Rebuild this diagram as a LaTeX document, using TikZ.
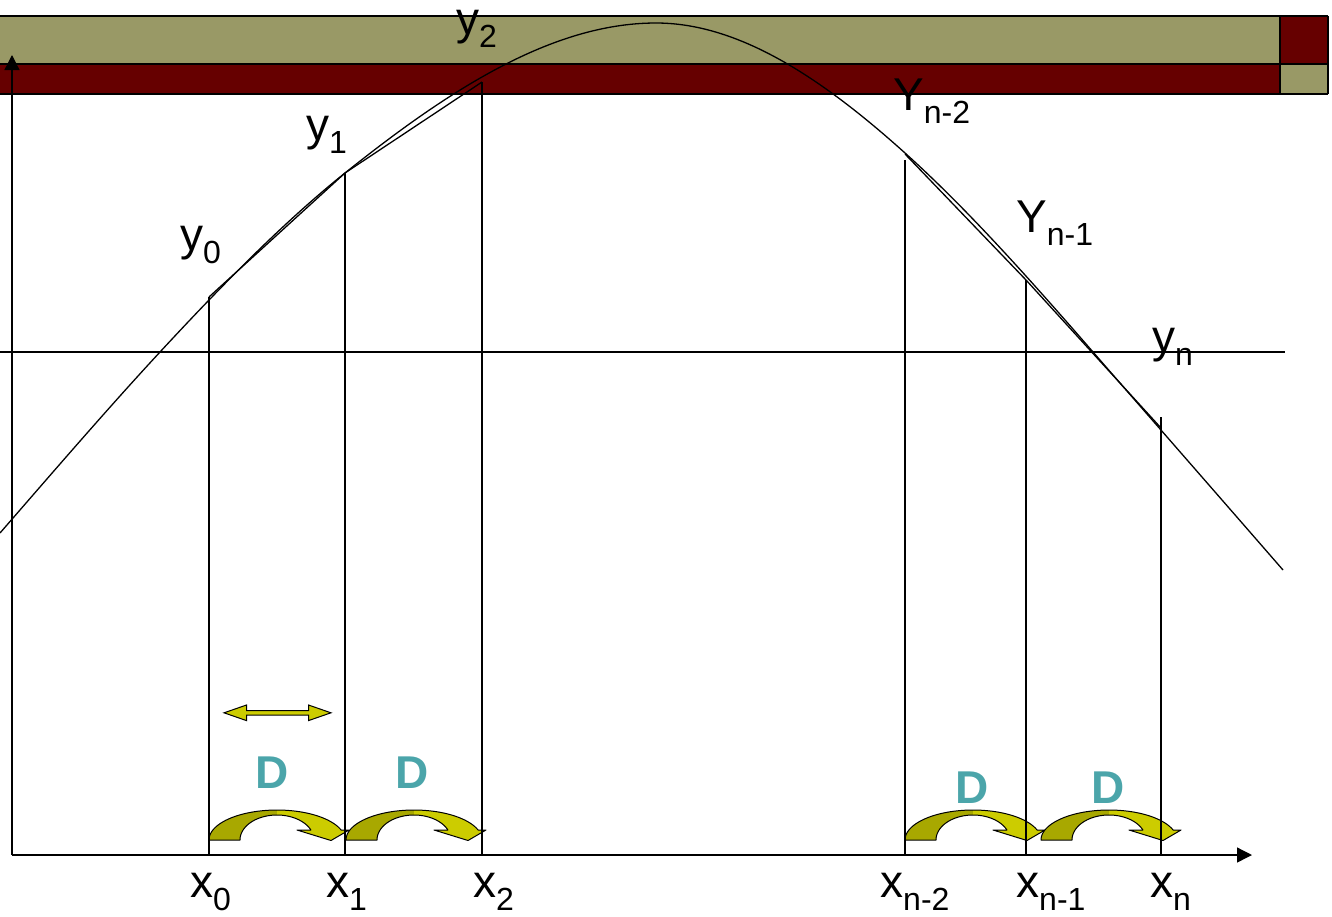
\documentclass[tikz,border=0pt]{standalone}
\usepackage{fontspec}
\setmainfont{Liberation Sans}
\usetikzlibrary{arrows.meta}
\definecolor{olivebar}{RGB}{153,153,102}
\definecolor{darkredbar}{RGB}{102,0,0}
\definecolor{yellowarr}{RGB}{204,204,0}
\definecolor{darkyellow}{RGB}{168,168,0}
\definecolor{tealD}{RGB}{75,165,170}
\newcommand\sublbl[2]{#1\raisebox{-13pt}{\fontsize{32}{34}\selectfont #2}}
\begin{document}
\begin{tikzpicture}[x=1pt,y=-1pt,
  thinline/.style={line width=1.3pt},
  barline/.style={line width=2pt},
  lbl/.style={inner sep=0pt, anchor=base west, font=\fontsize{46}{50}\selectfont},
  dlbl/.style={inner sep=0pt, font=\fontsize{46}{50}\selectfont\bfseries, text=tealD},
  axisarrow/.style={thinline,-{Triangle[length=15pt,width=15pt]}},
  curvarr/.pic={
    \fill[darkyellow] plot[domain=180:90,samples=30] ({68+68*cos(\x)},{-30*sin(\x)}) -- plot[domain=90:180,samples=30] ({68+37*cos(\x)},{-25*sin(\x)}) -- cycle;
    \fill[yellowarr] plot[domain=90:19.47,samples=30] ({68+68*cos(\x)},{-30*sin(\x)}) -- (140,-10) -- (122,0.5) -- (88,-10) -- plot[domain=23.58:90,samples=30] ({68+37*cos(\x)},{-25*sin(\x)}) -- cycle;
    \draw[line width=1pt, line join=round] plot[domain=180:19.47,samples=60] ({68+68*cos(\x)},{-30*sin(\x)}) -- (140,-10) -- (122,0.5) -- (88,-10) -- plot[domain=23.58:180,samples=60] ({68+37*cos(\x)},{-25*sin(\x)}) -- cycle;
  }
]
\useasboundingbox (0,0) rectangle (1332,916);
% top bar
\fill[olivebar] (0,16) rectangle (1280,63.5);
\fill[darkredbar] (0,63.5) rectangle (1280,94);
\fill[darkredbar] (1280,16) rectangle (1328,63.5);
\fill[olivebar] (1280,63.5) rectangle (1328,94);
\draw[barline] (0,16) -- (1328,16);
\draw[barline] (0,63.5) -- (1328,63.5);
\draw[barline] (0,94) -- (1328,94);
\draw[barline] (1280,16) -- (1280,94);
\draw[barline] (1328,16) -- (1328,94);
% curved arrows
\pic at (209,840) {curvarr};
\pic at (346,840) {curvarr};
\pic at (905,840) {curvarr};
\pic at (1041,840) {curvarr};
% double arrow
\draw[fill=yellowarr, line width=1pt, line join=miter]
  (224,712.8) -- (246.5,705) -- (246.5,710.6) -- (308.5,710.6) -- (308.5,705) -- (331,712.8)
  -- (308.5,720.6) -- (308.5,715) -- (246.5,715) -- (246.5,720.6) -- cycle;
% coordinates
\coordinate (O) at (12,855);
\coordinate (xend) at (1252,855);
\coordinate (yend) at (12,55);
\coordinate (h0) at (0,352);
\coordinate (h1) at (1285,352);
\coordinate (b0) at (209,855); \coordinate (t0) at (209,297);
\coordinate (b1) at (345,855); \coordinate (t1) at (345,173);
\coordinate (b2) at (482,855); \coordinate (t2) at (482,82);
\coordinate (bn2) at (905,855); \coordinate (tn2) at (905,160);
\coordinate (bn1) at (1026,855); \coordinate (tn1) at (1026,280);
\coordinate (bn) at (1161,855); \coordinate (tn) at (1161,417);
\coordinate (cn2) at (905,154);
\coordinate (cn) at (1161,428);
% axes
\draw[axisarrow] (O) -- (xend);
\draw[axisarrow] (O) -- (yend);
\draw[thinline] (h0) -- (h1);
% verticals
\draw[thinline] (b0) -- (t0);
\draw[thinline] (b1) -- (t1);
\draw[thinline] (b2) -- (t2);
\draw[thinline] (bn2) -- (tn2);
\draw[thinline] (bn1) -- (tn1);
\draw[thinline] (bn) -- (tn);
% chords
\draw[thinline] (t0) -- (t1) -- (t2);
\draw[thinline] (cn2) -- (tn1) -- (cn);
% curve
\draw[thinline] (0,533)
  .. controls (53.3,471.7) and (106.7,409.6) .. (160,352)
  .. controls (221.7,285.4) and (283.3,222.4) .. (345,173)
  .. controls (448.7,90) and (552.3,23) .. (656,23)
  .. controls (739,23) and (822,78.3) .. (905,153)
  .. controls (967.7,209.4) and (1030.3,279.9) .. (1093,352)
  .. controls (1156.3,424.8) and (1219.7,497.2) .. (1283,570);
% labels
\node[lbl] (lx0) at (190,897) {\sublbl{x}{0}};
\node[lbl] (lx1) at (326,897) {\sublbl{x}{1}};
\node[lbl] (lx2) at (473,897) {\sublbl{x}{2}};
\node[lbl] (lxn2) at (880,897) {\sublbl{x}{n-2}};
\node[lbl] (lxn1) at (1016,897) {\sublbl{x}{n-1}};
\node[lbl] (lxn) at (1150,897) {\sublbl{x}{n}};
\node[lbl] (ly0) at (180,250) {\sublbl{y}{0}};
\node[lbl] (ly1) at (306,140) {\sublbl{y}{1}};
\node[lbl] (ly2) at (456,34) {\sublbl{y}{2}};
\node[lbl] (lYn2) at (893,110) {\sublbl{Y}{n-2}};
\node[lbl] (lYn1) at (1016,232) {\sublbl{Y}{n-1}};
\node[lbl] (lyn) at (1152,352) {\sublbl{y}{n}};
\node[dlbl] (d1) at (272.5,773) {D};
\node[dlbl] (d2) at (411.7,773) {D};
\node[dlbl] (d3) at (971.7,788) {D};
\node[dlbl] (d4) at (1108,788) {D};
\end{tikzpicture}
\end{document}
